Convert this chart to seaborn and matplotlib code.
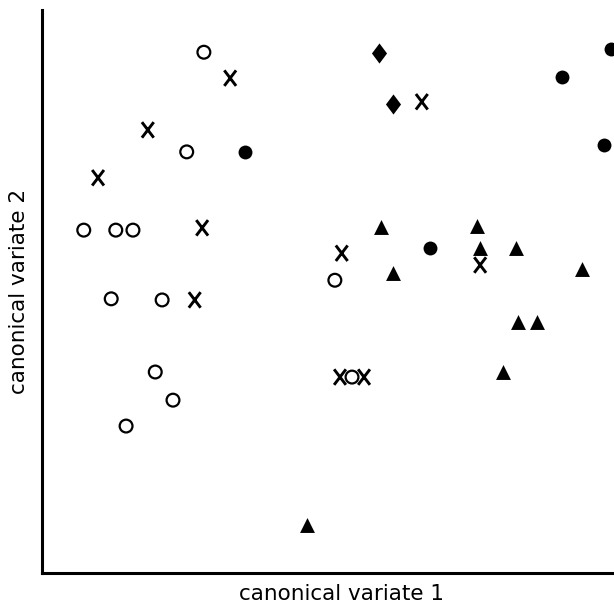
import matplotlib
matplotlib.use("Agg")
import matplotlib.pyplot as plt
from matplotlib.path import Path
import seaborn as sns

# ---- data (arbitrary canonical-variate units) ----
open_x = [2.83, 2.53, 0.73, 1.29, 1.59, 1.21, 2.10, 1.98, 2.29, 1.47, 5.12, 5.42]
open_y = [9.25, 7.48, 6.09, 6.09, 6.09, 4.87, 4.85, 3.57, 3.07, 2.61, 5.20, 3.48]

cross_x = [3.29, 1.85, 0.98, 2.80, 2.67, 6.64, 5.24, 7.66, 5.21, 5.63]
cross_y = [8.79, 7.87, 7.02, 6.13, 4.85, 8.37, 5.68, 5.47, 3.48, 3.48]

dot_x = [3.55, 9.95, 9.09, 9.83, 6.78]
dot_y = [7.48, 9.31, 8.81, 7.60, 5.77]

diamond_x = [5.89, 6.14]
diamond_y = [9.24, 8.33]

tri_x = [5.93, 7.60, 7.66, 8.29, 6.14, 9.44, 8.32, 8.65, 8.06, 4.63]
tri_y = [6.15, 6.16, 5.77, 5.77, 5.33, 5.40, 4.46, 4.46, 3.57, 0.85]

x_label = "canonical variate 1"
y_label = "canonical variate 2"

# ---- figure ----
sns.set_style("white")
plt.rcParams["font.family"] = ["DejaVu Sans"]

fig = plt.figure(figsize=(6.14, 6.07), dpi=100)
ax = fig.add_axes([42 / 614, 34 / 607, 572 / 614, 563 / 607])

x_marker = Path([(-0.38, -0.5), (0.38, 0.5), (-0.38, 0.5), (0.38, -0.5)],
                [Path.MOVETO, Path.LINETO, Path.MOVETO, Path.LINETO])
diamond_marker = [(0, 1), (0.75, 0), (0, -1), (-0.75, 0), (0, 1)]

sns.scatterplot(x=open_x, y=open_y, ax=ax, marker="o", s=85,
                facecolor="none", edgecolor="black", linewidth=1.6)
sns.scatterplot(x=cross_x, y=cross_y, ax=ax, marker=x_marker, s=125,
                facecolor="none", edgecolor="black", linewidth=2.1)
sns.scatterplot(x=dot_x, y=dot_y, ax=ax, marker="o", s=100,
                color="black", edgecolor="black", linewidth=0)
sns.scatterplot(x=diamond_x, y=diamond_y, ax=ax, marker=diamond_marker, s=210,
                color="black", edgecolor="black", linewidth=0)
sns.scatterplot(x=tri_x, y=tri_y, ax=ax, marker="^", s=115,
                color="black", edgecolor="black", linewidth=0)

ax.set_xlim(0, 10)
ax.set_ylim(0, 10)
ax.set_xticks([])
ax.set_yticks([])
for side in ["top", "right"]:
    ax.spines[side].set_visible(False)
for side in ["left", "bottom"]:
    ax.spines[side].set_color("black")
    ax.spines[side].set_linewidth(2.2)

ax.set_xlabel(x_label, fontsize=15.5, color="black")
ax.set_ylabel(y_label, fontsize=15.5, color="black")
ax.xaxis.set_label_coords(0.523, -0.038, transform=ax.transAxes)
ax.xaxis.label.set_va("center")
ax.yaxis.set_label_coords(-0.041, 0.5, transform=ax.transAxes)
ax.yaxis.label.set_va("center")

fig.savefig("out.png", dpi=100)
